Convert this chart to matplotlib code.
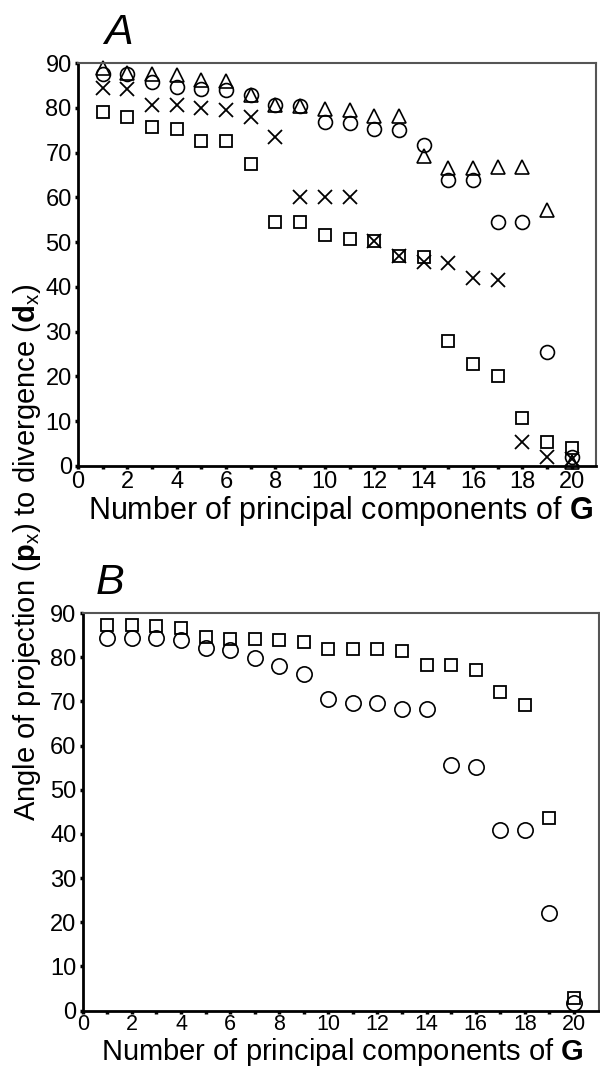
import numpy as np
import matplotlib
matplotlib.use("Agg")
import matplotlib.pyplot as plt

plt.rcParams['font.family'] = ['Liberation Sans', 'DejaVu Sans']
plt.rcParams['mathtext.fontset'] = 'custom'
plt.rcParams['mathtext.rm'] = 'Liberation Sans'
plt.rcParams['mathtext.bf'] = 'Liberation Sans:bold'
plt.rcParams['mathtext.it'] = 'Liberation Sans:italic'

# number of principal components
pcs = list(range(1, 21))

# panel A : angle of projection to divergence
a_triangle = [89, 87.8, 87.6, 87.3, 86.1, 86, 82.9, 80.6, 80.4, 79.7,
              79.4, 78.2, 78.2, 69.3, 66.6, 66.6, 66.7, 66.7, 57.2, 1]
a_circle = [87.5, 87.5, 85.8, 84.6, 84.3, 83.9, 82.9, 80.6, 80.4, 76.8,
            76.7, 75.3, 75, 71.7, 63.9, 63.9, 54.4, 54.4, 25.5, 2]
a_cross = [84.5, 84.3, 80.6, 80.6, 80, 79.4, 78, 73.5, 60, 60,
           60, 50.2, 47, 45.5, 45.4, 41.9, 41.6, 5.4, 1.9, 1.5]
a_square = [79.1, 77.9, 75.6, 75.3, 72.6, 72.6, 67.5, 54.6, 54.6, 51.6,
            50.6, 50.2, 47, 46.6, 28, 22.7, 20, 10.8, 5.3, 4]

# panel B
b_square = [87.2, 87.2, 87, 86.5, 84.5, 84.2, 84.2, 83.9, 83.5, 81.8,
            81.8, 81.8, 81.4, 78.3, 78.3, 77.1, 72.1, 69.1, 43.6, 2.8]
b_circle = [84.4, 84.4, 84.4, 84, 82, 81.6, 79.9, 78, 76.2, 70.5,
            69.7, 69.7, 68.3, 68.3, 55.7, 55.1, 40.9, 40.9, 22, 1.8]

xticks = list(range(0, 21, 2))
yticks = list(range(0, 91, 10))

fig = plt.figure(figsize=(6, 10.7), dpi=100)
axA = fig.add_axes([0.13, 0.5645, 0.864, 0.3766])
axB = fig.add_axes([0.138, 0.0555, 0.8595, 0.3716])


def style(ax):
    ax.set_xlim(0, 21)
    ax.set_ylim(0, 90)
    ax.set_xticks(xticks)
    ax.set_xticks(range(0, 21), minor=True)
    ax.set_yticks(yticks)
    ax.tick_params(axis='both', which='both', direction='out', length=2.5,
                   width=2.5, labelsize=17, pad=2)
    ax.tick_params(axis='x', which='major', pad=1)
    ax.spines['left'].set_linewidth(2)
    ax.spines['bottom'].set_linewidth(2)
    for s in ['top', 'right']:
        ax.spines[s].set_linewidth(1.5)
        ax.spines[s].set_color('#555555')


mk = dict(linestyle='none', color='black', markerfacecolor='none', clip_on=False)

axA.plot(pcs, a_square, marker='s', ms=9, mew=1.3, **mk)
axA.plot(pcs, a_cross, marker='x', ms=9.5, mew=1.3, **mk)
axA.plot(pcs, a_circle, marker='o', ms=10, mew=1.2, **mk)
axA.plot(pcs, a_triangle, marker='^', ms=10, mew=1.2, **mk)
style(axA)

axB.plot(pcs, b_square, marker='s', ms=9, mew=1.3, **mk)
axB.plot(pcs, b_circle, marker='o', ms=11, mew=1.2, **mk)
style(axB)
axB.tick_params(axis='x', which='major', labelsize=15.5, pad=0)

fig.text(0.197, 0.969, 'A', fontsize=31, style='italic', ha='center', va='center')
fig.text(0.183, 0.455, 'B', fontsize=31, style='italic', ha='center', va='center')

fig.text(0.567, 0.522, r'Number of principal components of $\mathbf{G}$',
         fontsize=22, ha='center', va='center')
fig.text(0.57, 0.002, r'Number of principal components of $\mathbf{G}$',
         fontsize=21, ha='center', va='bottom')
fig.text(0.045, 0.484,
         r'Angle of projection ($\mathbf{p}_\mathrm{x}$) to divergence ($\mathbf{d}_\mathrm{x}$)',
         fontsize=21, rotation=90, ha='center', va='center')

fig.savefig('out.png', dpi=100)
